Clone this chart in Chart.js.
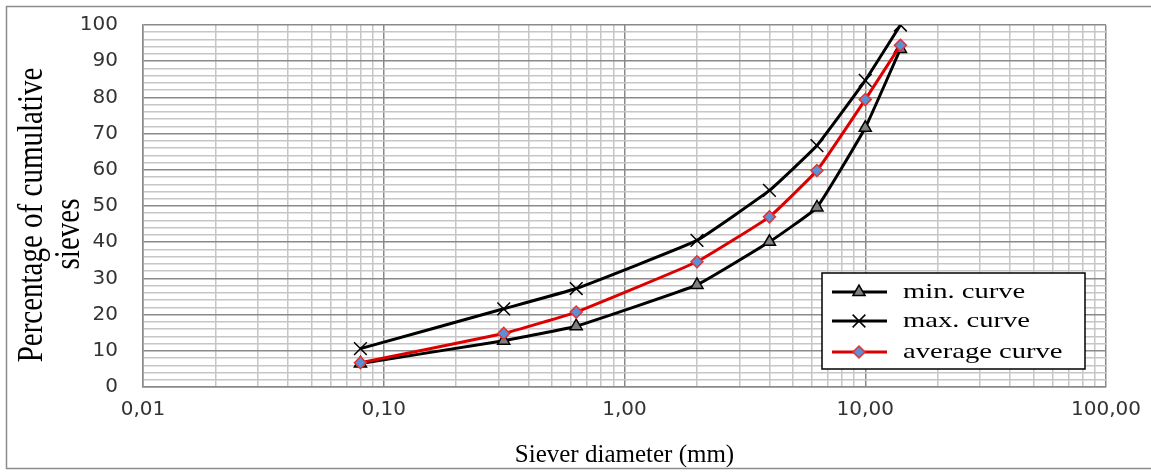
<!DOCTYPE html>
<html>
<head>
<meta charset="utf-8">
<script src="https://cdn.jsdelivr.net/npm/chart.js@4/dist/chart.umd.min.js"></script>
<style>
  html, body { margin: 0; padding: 0; background: #fff; }
  canvas { display: block; }
</style>
</head>
<body>
<canvas id="c" width="1151" height="473"></canvas>
<script>
// ---- data ----
const sieves     = [0.08, 0.315, 0.63, 2, 4, 6.3, 10, 14];
const minCurve   = [6.5, 12.8, 16.8, 28.2, 40.1, 49.6, 71.6, 93.4];
const maxCurve   = [10.6, 21.6, 27.2, 40.5, 54.3, 66.7, 84.7, 100];
const avgCurve   = [6.7, 14.8, 20.7, 34.6, 47.0, 59.8, 79.4, 94.4];
const seriesNames = ['min. curve', 'max. curve', 'average curve'];
const xTickValues = [0.01, 0.1, 1, 10, 100];
const xTickLabels = ['0,01', '0,10', '1,00', '10,00', '100,00'];
const yTickLabels = ['0', '10', '20', '30', '40', '50', '60', '70', '80', '90', '100'];
const xTitle = 'Siever diameter (mm)';
const yTitle = ['Percentage of cumulative', 'sieves'];

const MAJOR = '#8a8a8a';
const MINOR = '#c6c6c6';
const SERIF = '"Liberation Serif", "Times New Roman", serif';

function pts(ys) { return sieves.map((x, i) => ({ x: x, y: ys[i] })); }

const frame = {
  id: 'frame',
  beforeDraw(chart) {
    const ctx = chart.ctx;
    ctx.save();
    ctx.fillStyle = '#fff';
    ctx.fillRect(0, 0, chart.width, chart.height);
    ctx.strokeStyle = '#8c8c8c';
    ctx.lineWidth = 1.5;
    ctx.strokeRect(6.5, 6.5, chart.width + 10, 462);
    ctx.restore();
  },
  afterDraw(chart) {
    // vertical axis title, two lines, drawn slightly condensed like the reference
    const ctx = chart.ctx;
    const a = chart.chartArea;
    const mid = (a.top + a.bottom) / 2;
    const pos = [[33, mid + 9], [70, mid + 28]];
    ctx.save();
    ctx.fillStyle = '#000';
    ctx.font = '29px ' + SERIF;
    ctx.textAlign = 'center';
    ctx.textBaseline = 'middle';
    yTitle.forEach((t, i) => {
      ctx.save();
      ctx.translate(pos[i][0], pos[i][1]);
      ctx.rotate(-Math.PI / 2);
      ctx.scale(1, 1.2);
      ctx.fillText(t, 0, 0);
      ctx.restore();
    });
    ctx.restore();
  }
};

function marker(ctx, style, x, y, r, fill, stroke, lw) {
  ctx.save();
  ctx.beginPath();
  ctx.lineWidth = lw; ctx.strokeStyle = stroke; ctx.fillStyle = fill;
  if (style === 'triangle') {
    ctx.moveTo(x, y - r);
    ctx.lineTo(x + r * 0.866, y + r * 0.5);
    ctx.lineTo(x - r * 0.866, y + r * 0.5);
    ctx.closePath(); ctx.fill(); ctx.stroke();
  } else if (style === 'crossRot') {
    const d = r * 0.7071;
    ctx.moveTo(x - d, y - d); ctx.lineTo(x + d, y + d);
    ctx.moveTo(x + d, y - d); ctx.lineTo(x - d, y + d);
    ctx.stroke();
  } else {
    ctx.moveTo(x, y - r); ctx.lineTo(x + r, y); ctx.lineTo(x, y + r); ctx.lineTo(x - r, y);
    ctx.closePath(); ctx.fill(); ctx.stroke();
  }
  ctx.restore();
}

const boxLegend = {
  id: 'boxLegend',
  afterDraw(chart) {
    const ctx = chart.ctx;
    const a = chart.chartArea;
    const bx = a.right - 284, by = a.bottom - 114, bw = 263, bh = 96;
    ctx.save();
    ctx.fillStyle = '#fff';
    ctx.fillRect(bx, by, bw, bh);
    ctx.strokeStyle = '#000';
    ctx.lineWidth = 1.5;
    ctx.strokeRect(bx, by, bw, bh);
    const rows = [19, 48, 79];
    const ds = chart.data.datasets;
    [0, 1, 2].forEach((k, i) => {
      const d = ds[k];
      const y = by + rows[i];
      ctx.beginPath();
      ctx.strokeStyle = d.borderColor;
      ctx.lineWidth = 3;
      ctx.moveTo(bx + 10, y); ctx.lineTo(bx + 65, y);
      ctx.stroke();
      marker(ctx, d.pointStyle, bx + 37, y, d.pointRadius, d.pointBackgroundColor, d.pointBorderColor, d.pointBorderWidth);
      ctx.save();
      ctx.translate(bx + 81, y);
      ctx.scale(1.3, 1);
      ctx.fillStyle = '#000';
      ctx.font = '22px ' + SERIF;
      ctx.textBaseline = 'middle';
      ctx.textAlign = 'left';
      ctx.fillText(d.label, 0, 0);
      ctx.restore();
    });
    ctx.restore();
  }
};

new Chart(document.getElementById('c'), {
  type: 'line',
  data: {
    datasets: [
      {
        label: seriesNames[0], data: pts(minCurve), order: 2,
        borderColor: '#000', borderWidth: 3, tension: 0.1,
        pointStyle: 'triangle', pointRadius: 7, pointBackgroundColor: '#808080',
        pointBorderColor: '#000', pointBorderWidth: 1.5
      },
      {
        label: seriesNames[1], data: pts(maxCurve), order: 1,
        borderColor: '#000', borderWidth: 3, tension: 0.1,
        pointStyle: 'crossRot', pointRadius: 9, pointBackgroundColor: '#000',
        pointBorderColor: '#000', pointBorderWidth: 1.5
      },
      {
        label: seriesNames[2], data: pts(avgCurve), order: 0,
        borderColor: '#dd0000', borderWidth: 3, tension: 0.1,
        pointStyle: 'rectRot', pointRadius: 6, pointBackgroundColor: '#5b8fd6',
        pointBorderColor: '#e83030', pointBorderWidth: 1.5
      }
    ]
  },
  options: {
    responsive: false,
    animation: false,
    layout: { autoPadding: false, padding: { left: 0, top: 25, right: 45, bottom: 0 } },
    plugins: { legend: { display: false }, tooltip: { enabled: false } },
    scales: {
      x: {
        type: 'logarithmic',
        min: xTickValues[0], max: xTickValues[xTickValues.length - 1],
        afterBuildTicks(scale) {
          const t = [];
          for (let i = 0; i < xTickValues.length - 1; i++) {
            for (let m = 1; m < 10; m++) t.push({ value: xTickValues[i] * m });
          }
          t.push({ value: xTickValues[xTickValues.length - 1] });
          scale.ticks = t;
        },
        afterFit(scale) {
          scale.height = 86;
          scale.paddingLeft = 0; scale.paddingRight = 0;
        },
        grid: {
          drawTicks: false,
          color: (c) => (c.index % 9 === 0 ? MAJOR : MINOR),
          lineWidth: 1.5
        },
        border: { color: MAJOR, width: 1.5 },
        ticks: {
          autoSkip: false, maxRotation: 0, minRotation: 0, padding: 11,
          color: '#333',
          font: { family: '"DejaVu Sans", sans-serif', size: 20 },
          callback: (v, i) => (i % 9 === 0 ? xTickLabels[i / 9] : '')
        },
        title: {
          display: true, text: xTitle, color: '#000',
          font: { family: SERIF, size: 25, lineHeight: 1.15 },
          padding: { top: 0, bottom: 3 }
        }
      },
      y: {
        min: 0, max: 100,
        afterFit(scale) {
          scale.width = 143;
          scale.paddingTop = 0; scale.paddingBottom = 0;
        },
        grid: {
          drawTicks: false,
          color: (c) => (c.tick && c.tick.value % 10 === 0 ? MAJOR : MINOR),
          lineWidth: 1.5
        },
        border: { color: MAJOR, width: 1.5 },
        ticks: {
          stepSize: 2, autoSkip: false, padding: 25,
          color: '#333',
          font: { family: '"DejaVu Sans", sans-serif', size: 20 },
          callback: (v) => (v % 10 === 0 ? yTickLabels[v / 10] : '')
        },
        title: { display: false }
      }
    }
  },
  plugins: [frame, boxLegend]
});
</script>
</body>
</html>
